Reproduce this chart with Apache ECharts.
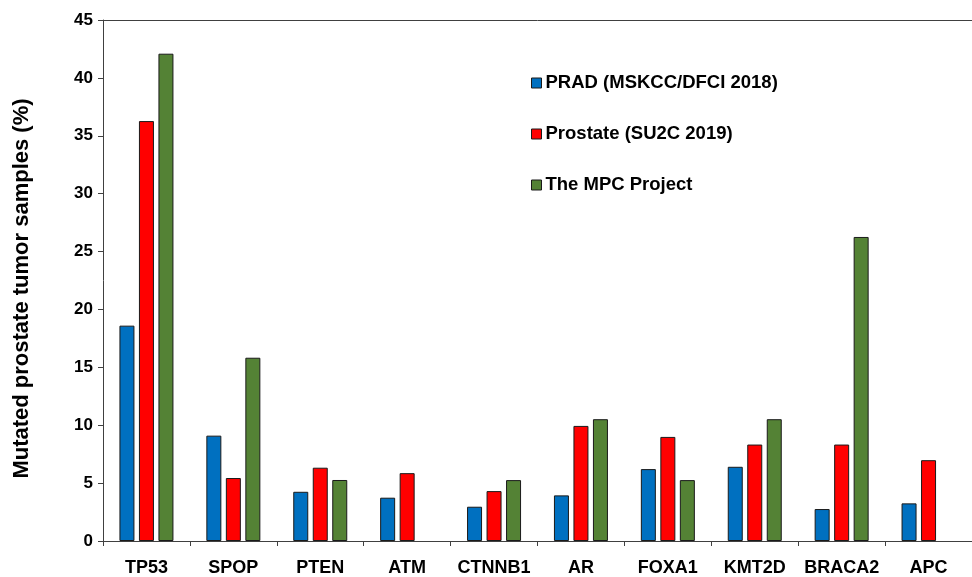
<!DOCTYPE html>
<html>
<head>
<meta charset="utf-8">
<script src="https://cdn.jsdelivr.net/npm/echarts@6/dist/echarts.min.js"></script>
<style>html,body{margin:0;padding:0;background:#fff}#c{width:972px;height:577px}</style>
</head>
<body>
<div id="c"></div>
<script>
const categories = ['TP53','SPOP','PTEN','ATM','CTNNB1','AR','FOXA1','KMT2D','BRACA2','APC'];
const seriesNames = ['PRAD (MSKCC/DFCI 2018)','Prostate (SU2C 2019)','The MPC Project'];
const pradValues = [18.6, 9.1, 4.25, 3.74, 2.96, 3.94, 6.21, 6.41, 2.76, 3.25];
const su2cValues = [36.27, 5.44, 6.33, 5.86, 4.31, 9.94, 8.99, 8.33, 8.33, 6.98];
const mpcValues = [42.09, 15.83, 5.27, null, 5.26, 10.52, 5.26, 10.52, 26.26, null];
const yTicks = {min: 0, max: 45, interval: 5};
const colors = ['#0070C0', '#FF0000', '#548235'];

const FONT = 'Arial, "Liberation Sans", sans-serif';
const chart = echarts.init(document.getElementById('c'));
const mk = (name, data, color) => ({
  name, type: 'bar', data, barWidth: 15, barGap: '30%', xAxisIndex: 0,
  itemStyle: {color, borderColor: '#1a1a1a', borderWidth: 1}
});
chart.setOption({
  animation: false,
  backgroundColor: '#fff',
  grid: {left: 103, top: 20, height: 522, width: 878},
  legend: {
    orient: 'vertical', left: 531, top: 73, padding: 0, itemWidth: 10, itemHeight: 10, itemGap: 31,
    icon: 'rect',
    itemStyle: {borderColor: '#1a1a1a', borderWidth: 1},
    textStyle: {fontFamily: FONT, fontWeight: 'bold', fontSize: 18.5, color: '#000', lineHeight: 20, padding: [0,0,0,-1]},
    data: seriesNames
  },
  xAxis: [{
    type: 'category', data: categories,
    axisLine: {lineStyle: {color: '#404040', width: 1}},
    axisTick: {show: true, length: 5, lineStyle: {color: '#404040'}},
    axisLabel: {fontFamily: FONT, fontWeight: 'bold', fontSize: 18, color: '#000', margin: 18, interval: 0}
  }, {
    type: 'category', data: categories, position: 'top',
    axisLine: {show: true, lineStyle: {color: '#404040', width: 1}},
    axisTick: {show: false}, axisLabel: {show: false}
  }],
  yAxis: {
    type: 'value', min: yTicks.min, max: yTicks.max, interval: yTicks.interval,
    name: 'Mutated prostate tumor samples (%)', nameLocation: 'middle', nameGap: 70,
    nameTextStyle: {fontFamily: FONT, fontWeight: 'bold', fontSize: 22, color: '#000', padding: [0, 16, 0, 0]},
    axisLine: {show: true, lineStyle: {color: '#404040', width: 1}},
    axisTick: {show: true, length: 5, lineStyle: {color: '#404040'}},
    splitLine: {show: false},
    axisLabel: {fontFamily: FONT, fontWeight: 'bold', fontSize: 17, color: '#000', margin: 10}
  },
  series: [mk(seriesNames[0], pradValues, colors[0]), mk(seriesNames[1], su2cValues, colors[1]), mk(seriesNames[2], mpcValues, colors[2])]
});
</script>
</body>
</html>
